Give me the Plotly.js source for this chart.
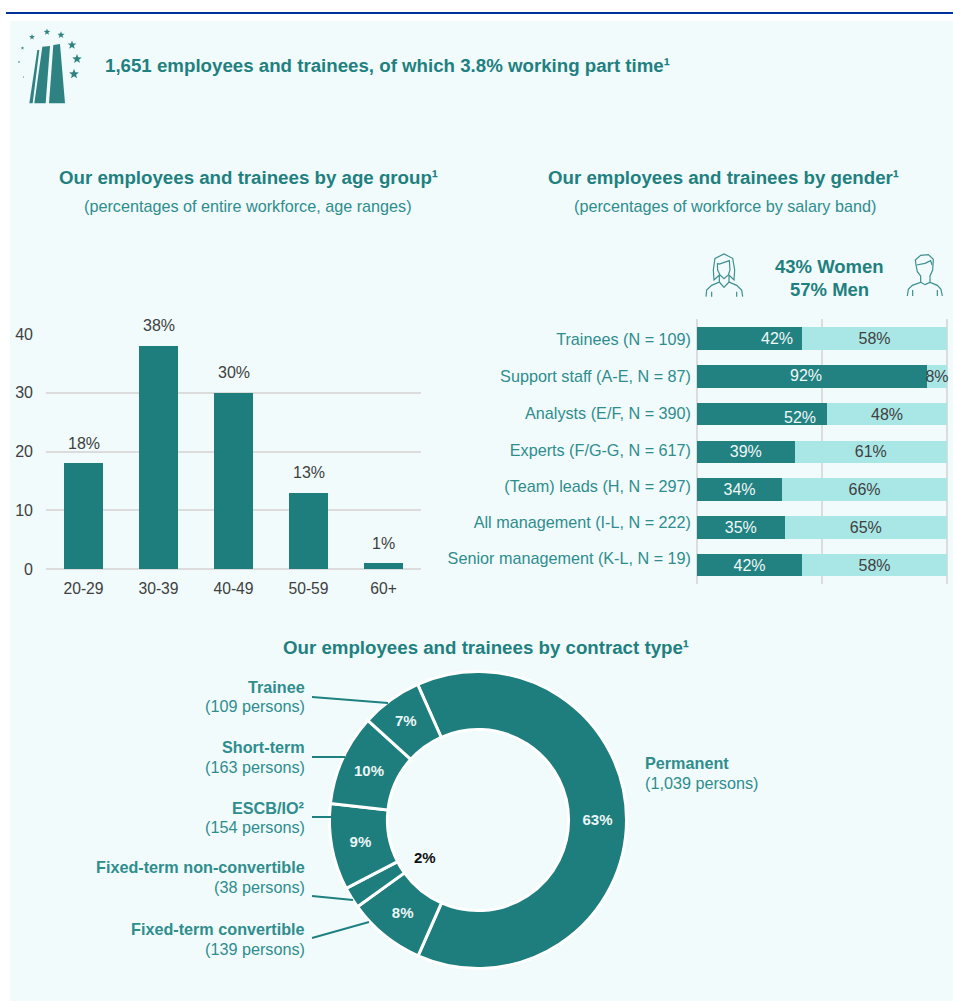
<!DOCTYPE html>
<html><head><meta charset="utf-8">
<script src="https://cdn.plot.ly/plotly-3.0.1.min.js"></script>
<style>html,body{margin:0;padding:0;background:#fff}#c{width:953px;height:1001px}</style>
</head><body><div id="c"></div>
<script>
// ---- data ----
const ageGroups = ['20-29','30-39','40-49','50-59','60+'];
const agePct = [18,38,30,13,1];
const ageTicks = [0,10,20,30,40];

const bands = ['Trainees (N = 109)','Support staff (A-E, N = 87)','Analysts (E/F, N = 390)','Experts (F/G-G, N = 617)','(Team) leads (H, N = 297)','All management (I-L, N = 222)','Senior management (K-L, N = 19)'];
const womenPct = [42,92,52,39,34,35,42];
const menPct = [58,8,48,61,66,65,58];
const bandTickPos = [0.02,1,1.97,2.95,3.9,4.86,5.81];

const contracts = ['Permanent','Fixed-term convertible','Fixed-term non-convertible','ESCB/IO²','Short-term','Trainee'];
const persons = [1039,139,38,154,163,109];
const contractPct = ['63%','8%','','9%','10%','7%'];
const personsText = ['1,039 persons','139 persons','38 persons','154 persons','163 persons','109 persons'];

// ---- layout helpers (page pixels -> paper) ----
const W=953,H=1001;
const X=x=>x/W, Y=y=>1-y/H;
const TEAL='#1e7d7d', TEXTTEAL='#1f8080', SUB='#2f8d8d', GRID='#dcdcdc', DARK='#404040';
const FONT='"Liberation Sans", Arial, sans-serif';
const note=(x,y,text,size,color,anchor)=>({xref:'paper',yref:'paper',x:X(x),y:Y(y),text,showarrow:false,xanchor:anchor||'center',yanchor:'middle',align:anchor||'center',font:{family:FONT,size,color}});
const path=(pts,closed)=>'M'+pts.map(p=>X(p[0]).toFixed(5)+','+Y(p[1]).toFixed(5)).join('L')+(closed?'Z':'');
const fillShape=(pts)=>({type:'path',xref:'paper',yref:'paper',path:path(pts,true),fillcolor:'#2f8282',line:{width:0}});
const strokeShape=(pts,w,c)=>({type:'path',xref:'paper',yref:'paper',path:path(pts,false),line:{color:c||'#3f8f8f',width:w||1.2}});
function star(cx,cy,r){const p=[];for(let i=0;i<10;i++){const a=-Math.PI/2+i*Math.PI/5,q=i%2?r*0.42:r;p.push([cx+q*Math.cos(a),cy+q*Math.sin(a)]);}return fillShape(p);}
const off=(pts,ox,oy)=>pts.map(p=>[ox+p[0]/3,oy+p[1]/3]);

const shapes=[
 {type:'rect',xref:'paper',yref:'paper',x0:X(10),x1:X(953),y0:Y(21),y1:Y(1001),fillcolor:'#f1fbfc',line:{width:0},layer:'below'},
 {type:'rect',xref:'paper',yref:'paper',x0:X(6),x1:X(953),y0:Y(12),y1:Y(14),fillcolor:'#003299',line:{width:0},layer:'below'},
 // logo
 fillShape(off([[88,310],[112,150],[118,150],[98,310]],0,0)),
 fillShape(off([[103,310],[127,140],[150,138],[137,310]],0,0)),
 fillShape(off([[147,310],[160,135],[180,132],[195,310]],0,0)),
 star(32,37,3),star(47,32,3.4),star(61,35,3.8),star(72,45,4.6),star(77,59,5),star(74,74,5.2),star(22.5,48,1.8),star(19,62,1.2),star(23.5,77,.9),
 // woman icon
 strokeShape(off([[78,170],[80,150],[95,136],[118,126],[118,105],[102,120],[100,90],[105,55],[132,42],[158,55],[164,90],[162,120],[147,105],[147,126],[170,136],[185,150],[188,170]],680,240)),
 strokeShape(off([[112,70],[118,72],[148,62],[150,90],[145,105],[132,116],[120,105],[113,90],[112,70]],680,240)),
 strokeShape(off([[118,126],[132,142],[147,126]],680,240)),
 strokeShape(off([[95,155],[95,170]],680,240)),strokeShape(off([[170,155],[170,170]],680,240)),
 // man icon
 strokeShape(off([[682,168],[685,148],[697,136],[722,127],[722,108],[712,95],[708,75],[706,60],[722,46],[745,44],[760,58],[758,90],[750,108],[750,127],[772,136],[783,148],[787,168]],680,240)),
 strokeShape(off([[710,75],[735,70],[752,62],[756,75]],680,240)),
 strokeShape(off([[722,127],[735,134],[750,127]],680,240)),
 strokeShape(off([[698,150],[698,168]],680,240)),strokeShape(off([[772,150],[772,168]],680,240)),
 // donut leader lines
 strokeShape([[312,697],[388,703]],2,'#1e8080'),
 strokeShape([[312,757],[345,757]],2,'#1e8080'),
 strokeShape([[312,817],[332,817]],2,'#1e8080'),
 strokeShape([[312,896],[353,900]],2,'#1e8080'),
 strokeShape([[312,938],[369,922]],2,'#1e8080')
];

const labelPos={ // page pixels of each contract label: x, name line, persons line, anchor
 'Permanent':[643,763,783,'left'],'Fixed-term convertible':[307,929,949,'right'],'Fixed-term non-convertible':[307,867,887,'right'],
 'ESCB/IO²':[307,808,827,'right'],'Short-term':[307,747,767,'right'],'Trainee':[307,687,706,'right']};

const annotations=[
 note(103,65,'<b>1,651 employees and trainees, of which 3.8% working part time¹</b>',18.7,TEXTTEAL,'left'),
 note(248,177,'<b>Our employees and trainees by age group¹</b>',18.7,TEXTTEAL),
 note(248,206,'(percentages of entire workforce, age ranges)',16.2,SUB),
 note(723,177,'<b>Our employees and trainees by gender¹</b>',18.7,TEXTTEAL),
 note(725,206,'(percentages of workforce by salary band)',16.2,SUB),
 note(829,266,'<b>43% Women</b>',18.5,TEXTTEAL),
 note(829,289,'<b>57% Men</b>',18.5,TEXTTEAL),
 note(486,647,'<b>Our employees and trainees by contract type¹</b>',18.7,TEXTTEAL),
 note(425,857,'<b>2%</b>',15,'#111111'),
 // nudged labels in the reference
 note(777,339,womenPct[0]+'%',16,'#f0f8f8'),
 note(806,376,womenPct[1]+'%',16,'#f0f8f8'),
 note(800,417,womenPct[2]+'%',16,'#f0f8f8'),
 ...contracts.flatMap((c,i)=>{const p=labelPos[c];return [note(p[0],p[1],'<b>'+c+'</b>',16.2,SUB,p[3]),note(p[0],p[2],'('+personsText[i]+')',16.2,SUB,p[3])];}),
 // value labels sit well above the bars in the reference
 ...ageGroups.map((g,i)=>({xref:'x',yref:'y',x:g,y:agePct[i],yshift:20,text:agePct[i]+'%',showarrow:false,xanchor:'center',yanchor:'middle',font:{family:FONT,size:16,color:DARK}}))
];

const nudged=[0,1,2];
const traces=[
 {type:'bar',x:ageGroups,y:agePct,xaxis:'x',yaxis:'y',width:0.53,marker:{color:TEAL},hoverinfo:'x+y',showlegend:false},
 {type:'bar',orientation:'h',y:bands.map((_,i)=>i),x:womenPct,xaxis:'x2',yaxis:'y2',width:0.6,marker:{color:'#228282'},name:'Women',
  text:womenPct.map((v,i)=>nudged.includes(i)?'':v+'%'),textposition:'inside',insidetextanchor:'middle',constraintext:'none',textangle:0,textfont:{family:FONT,size:16,color:'#f0f8f8'},showlegend:false},
 {type:'bar',orientation:'h',y:bands.map((_,i)=>i),x:menPct,xaxis:'x2',yaxis:'y2',width:0.6,marker:{color:'#a9e7e6'},name:'Men',cliponaxis:false,
  text:menPct.map(v=>v+'%'),textposition:'inside',insidetextanchor:'middle',constraintext:'none',textangle:0,textfont:{family:FONT,size:16,color:DARK},showlegend:false},
 {type:'pie',labels:contracts,values:persons,text:contractPct,textinfo:'text',sort:false,direction:'clockwise',rotation:-24,hole:0.61,
  domain:{x:[X(478-148.5),X(478+148.5)],y:[Y(820+148.5),Y(820-148.5)]},
  marker:{colors:contracts.map(()=>TEAL),line:{color:'#ffffff',width:3}},
  textposition:contracts.map(c=>c==='Fixed-term non-convertible'?'none':'inside'),insidetextorientation:'horizontal',
  textfont:{family:FONT,size:15,color:'#eaf6f6',weight:'bold'},showlegend:false}
];

const layout={
 width:W,height:H,margin:{l:0,r:0,t:0,b:0,pad:0},paper_bgcolor:'rgba(0,0,0,0)',plot_bgcolor:'rgba(0,0,0,0)',
 font:{family:FONT},barmode:'stack',bargap:0.4,showlegend:false,shapes,annotations,
 xaxis:{domain:[X(46),X(421)],anchor:'y',type:'category',showgrid:false,zeroline:false,showline:false,ticks:'',tickfont:{family:FONT,size:15.7,color:DARK},ticklabelstandoff:8},
 yaxis:{domain:[Y(569),Y(334)],anchor:'x',range:[0,40],tickvals:ageTicks,gridcolor:GRID,gridwidth:2,zeroline:true,zerolinecolor:GRID,zerolinewidth:2,showline:false,ticks:'',tickfont:{family:FONT,size:16,color:DARK},ticklabelstandoff:12},
 xaxis2:{domain:[X(692),X(952)],anchor:'y2',range:[-2,102],tickvals:[0,50,100],gridcolor:GRID,gridwidth:2,zeroline:false,showticklabels:false,ticks:''},
 yaxis2:{domain:[Y(584),Y(319)],anchor:'x2',range:[6.5,-0.52],tickmode:'array',tickvals:bandTickPos,ticktext:bands,showgrid:false,zeroline:false,ticks:'',tickfont:{family:FONT,size:16.2,color:SUB},ticklabelstandoff:0}
};
Plotly.newPlot('c',traces,layout,{displayModeBar:false,responsive:false});
</script></body></html>
